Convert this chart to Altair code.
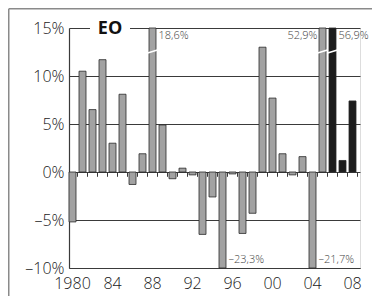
import altair as alt
import pandas as pd

# ---- data ----
years = list(range(1980, 2009))
values = [-5.2, 10.5, 6.5, 11.7, 3.0, 8.1, -1.3, 1.9, 18.6, 4.9,
          -0.7, 0.4, -0.3, -6.5, -2.6, -23.3, -0.2, -6.4, -4.3, 13.0,
          7.7, 1.9, -0.3, 1.6, -21.7, 52.9, 56.9, 1.2, 7.4]
kinds = ["Ist"] * 26 + ["Prognose"] * 3
year_ticks = [1980, 1984, 1988, 1992, 1996, 2000, 2004, 2008]
y_ticks = [-10, -5, 0, 5, 10, 15]
ann_years = [1988, 1995, 2004, 2005, 2006]
ann_labels = ["18,6%", "–23,3%", "–21,7%", "52,9%", "56,9%"]
ann_side = ["right", "right", "right", "left", "right"]
panel_title = "EO"

Y_MIN, Y_MAX = -10, 15
FONT = "Open Sans"
LINE = "#3a3a3a"

df = pd.DataFrame({"year": years, "value": values, "kind": kinds})
ann = pd.DataFrame({"year": ann_years, "label": ann_labels, "side": ann_side})
ann["value"] = ann["year"].map(dict(zip(years, values)))
ann["ypos"] = ann["value"].clip(Y_MIN, Y_MAX)
brk = df[df["value"] > Y_MAX].copy()
brk["ypos"] = 12.55
one = pd.DataFrame({"a": [0]})

xenc = alt.X(
    "year:O",
    scale=alt.Scale(paddingInner=0.3, paddingOuter=0.2, align=0),
    axis=alt.Axis(
        values=year_ticks,
        labelExpr="datum.value == 1980 ? '1980' : substring(toString(datum.value), 2, 4)",
        title=None, ticks=False, labelAngle=0, labelFont=FONT, labelFontSize=16,
        labelFontWeight=300, labelColor="#1a1a1a", labelPadding=7,
        domainColor=LINE, domainWidth=1.2,
    ),
)
yscale = alt.Scale(domain=[Y_MIN, Y_MAX], clamp=True, nice=False, zero=False)
yenc = alt.Y(
    "value:Q", scale=yscale,
    axis=alt.Axis(
        values=y_ticks,
        labelExpr="(datum.value < 0 ? '–' + (-datum.value) : datum.value) + '%'",
        title=None, ticks=False, grid=True, gridColor=LINE, gridWidth=1,
        gridOpacity=1, labelFont=FONT, labelFontSize=16, labelFontWeight=300,
        labelColor="#1a1a1a", labelPadding=5, domainColor=LINE, domainWidth=1.2,
    ),
)

bars = alt.Chart(df).mark_bar(stroke="#2a2a2a", strokeWidth=0.8).encode(
    x=xenc, y=yenc, y2=alt.datum(0),
    color=alt.Color("kind:N", scale=alt.Scale(domain=["Ist", "Prognose"],
                                              range=["#a2a2a2", "#1c1c1c"]), legend=None),
)

zero_ticks = alt.Chart(df).mark_rule(xOffset=5, color=LINE, strokeWidth=1).encode(
    x="year:O", y=alt.datum(0), y2=alt.datum(-0.5)
)

breaks = alt.Chart(brk).mark_point(
    shape="M -1 0.3 L 1 -0.3", filled=False, stroke="white", strokeWidth=1.6,
    size=95, opacity=1,
).encode(x="year:O", y=alt.Y("ypos:Q", scale=yscale))

ann_r = alt.Chart(ann).transform_filter("datum.side == 'right'").transform_calculate(
    ypos2="datum.ypos > 0 ? datum.ypos - 0.85 : datum.ypos + 0.8"
).mark_text(
    align="left", baseline="middle", dx=6, font=FONT, fontSize=11, fontWeight=300,
    color="#444444"
).encode(x="year:O", y=alt.Y("ypos2:Q", scale=yscale), text="label:N")

ann_l = alt.Chart(ann).transform_filter("datum.side == 'left'").transform_calculate(
    ypos2="datum.ypos - 0.85"
).mark_text(
    align="right", baseline="middle", dx=-5, font=FONT, fontSize=11, fontWeight=300,
    color="#444444"
).encode(x="year:O", y=alt.Y("ypos2:Q", scale=yscale), text="label:N")

title_bg = alt.Chart(one).mark_rect(color="white").encode(
    x=alt.value(21), x2=alt.value(61), y=alt.value(-8), y2=alt.value(8)
)
title_txt = alt.Chart(one).mark_text(
    text=panel_title, font=FONT, fontSize=18, fontWeight="bold", color="#111111",
    align="center", baseline="middle",
).encode(x=alt.value(41), y=alt.value(0.5))

frame_left = alt.Chart(one).mark_rule(color="#8a8a8a", strokeWidth=1.5).encode(
    x=alt.value(-60.25), y=alt.value(-19.25), y2=alt.value(272)
)
frame_top = alt.Chart(one).mark_rule(color="#8a8a8a", strokeWidth=1.5).encode(
    x=alt.value(-60.25), x2=alt.value(310), y=alt.value(-19.25)
)

chart = alt.layer(
    bars, zero_ticks, breaks, ann_r, ann_l, title_bg, title_txt, frame_left, frame_top
).properties(
    width=291, height=240,
    autosize=alt.AutoSizeParams(type="none"),
    padding={"left": 61, "top": 20, "right": 12, "bottom": 28},
).configure_view(stroke=None).configure(background="white")

chart.save("out.html", embed_options={"renderer": "svg", "actions": False})
